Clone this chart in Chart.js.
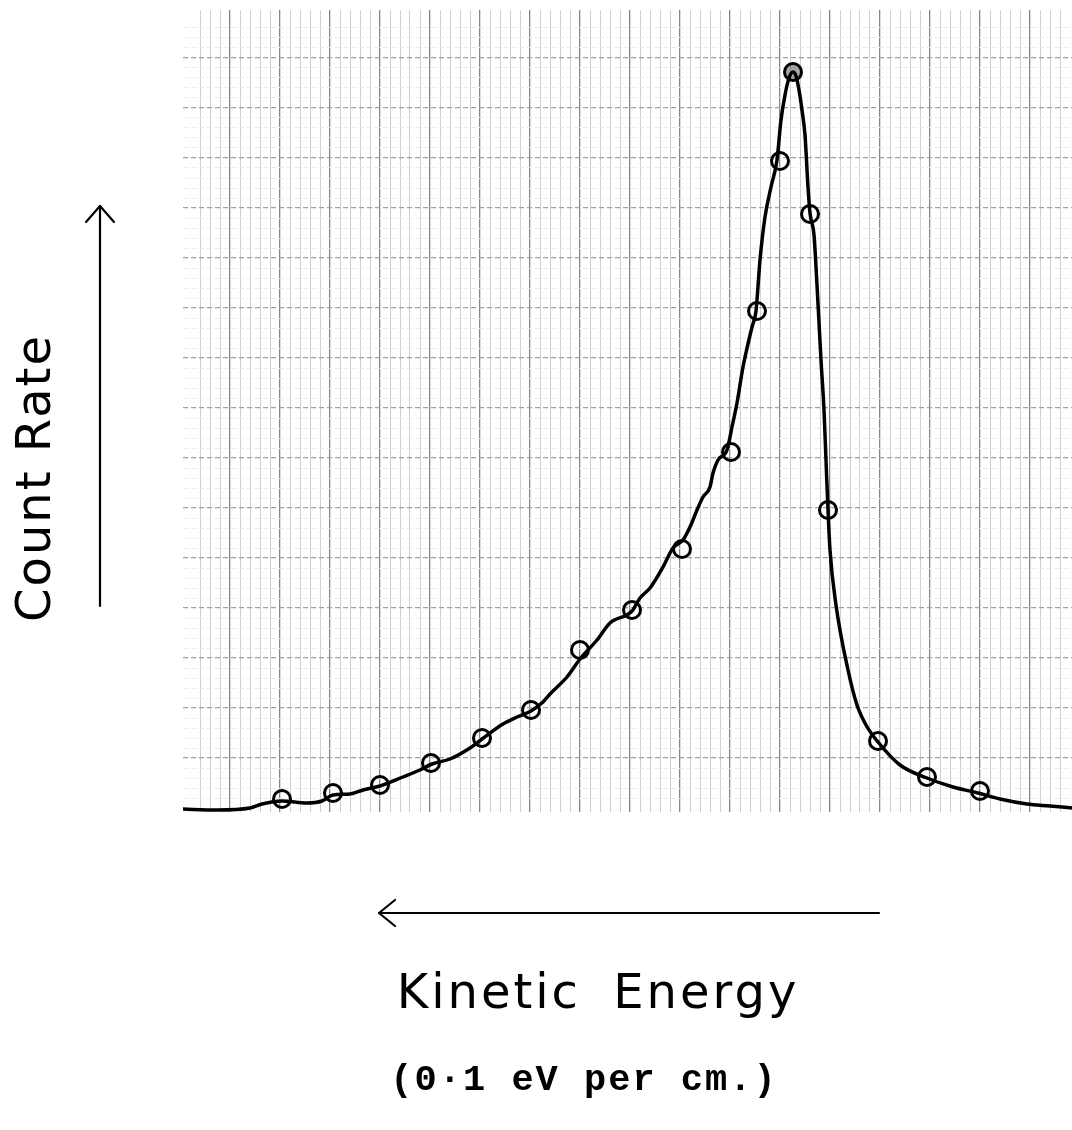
<!DOCTYPE html>
<html>
<head>
<meta charset="utf-8">
<script src="https://cdn.jsdelivr.net/npm/chart.js@4.4.1/dist/chart.umd.min.js"></script>
<style>
  html, body { margin: 0; padding: 0; background: #fff; overflow: hidden; }
  #wrap { width: 1072px; height: 1130px; position: relative; }
  canvas { display: block; }
</style>
</head>
<body>
<div id="wrap"><canvas id="chart"></canvas></div>
<script>
// traced curve (x in grid mm, y in grid mm above baseline)
const curveX = [0.1, 3.7, 7.0, 8.2, 10.2, 12.7, 14.2, 15.3, 17.0, 18.3, 20.0, 22.3, 24.0, 25.2,
  27.0, 29.0, 30.2, 32.3, 33.7, 35.1, 36.3, 37.0, 38.7, 40.0, 41.7, 43.0, 45.2, 46.0, 47.0,
  48.3, 49.3, 50.3, 51.0, 51.7, 52.3, 53.0, 53.3, 53.8, 54.7, 55.2, 55.7, 56.3, 57.2, 57.6,
  58.0, 58.5, 59.1, 59.7, 60.1, 60.5, 60.9, 61.3, 61.6, 61.9, 62.2, 62.5, 62.8, 63.0, 63.4,
  63.7, 64.1, 64.4, 64.6, 64.8, 65.0, 65.6, 66.8, 67.7, 68.6, 69.8, 72.0, 74.7, 77.3, 79.8,
  82.0, 84.7, 87.0, 89.2];
const curveY = [-0.1, -0.2, 0.0, 0.4, 0.7, 0.5, 0.7, 1.3, 1.4, 1.8, 2.2, 3.1, 3.8, 4.4,
  4.9, 6.0, 6.9, 8.4, 9.1, 9.7, 10.6, 11.4, 13.1, 14.9, 16.8, 18.5, 19.7, 21.0, 22.0,
  24.1, 26.0, 26.8, 28.1, 29.8, 31.1, 32.1, 33.5, 34.8, 35.8, 38.1, 40.5, 44.1, 48.1, 49.7,
  54.8, 59.1, 62.1, 64.8, 68.8, 71.3, 73.0, 73.6, 73.2, 71.8, 69.8, 67.3, 62.1, 59.5, 57.3,
  52.3, 44.8, 39.8, 34.8, 29.8, 25.8, 20.3, 13.8, 10.3, 8.3, 6.6, 4.3, 3.0, 2.1, 1.5,
  0.9, 0.4, 0.2, 0.0];

// measured points (circles)
const pointX = [10.2, 15.3, 20.0, 25.1, 30.2, 35.1, 40.0, 45.2, 50.2, 55.1, 57.7, 60.0,
  61.3, 63.0, 64.8, 69.8, 74.7, 80.0];
const pointY = [0.9, 1.5, 2.3, 4.5, 7.0, 9.8, 15.8, 19.8, 25.9, 35.6, 49.7, 64.7,
  73.6, 59.4, 29.8, 6.7, 3.1, 1.7];

const peakY = Math.max(...pointY);

const labelsPlugin = {
  id: "labels",
  beforeDraw(chart) {
    const c = chart.ctx;
    c.save();
    c.fillStyle = "#fff";
    c.fillRect(0, 0, chart.width, chart.height);
    c.restore();
  },
  afterDraw(chart) {
    const c = chart.ctx;
    c.save();
    c.strokeStyle = "#000";
    c.lineWidth = 2.2;
    c.lineCap = "round";
    c.lineJoin = "round";
    // count rate arrow
    c.beginPath(); c.moveTo(100, 606); c.lineTo(100, 206); c.stroke();
    c.beginPath(); c.moveTo(86, 222); c.lineTo(100, 206); c.lineTo(114, 222); c.stroke();
    // energy arrow
    c.beginPath(); c.moveTo(879, 913); c.lineTo(379, 913); c.stroke();
    c.beginPath(); c.moveTo(395, 900); c.lineTo(379, 913); c.lineTo(395, 926); c.stroke();

    c.fillStyle = "#000";
    c.textAlign = "center";
    c.textBaseline = "alphabetic";
    c.font = "48px 'DejaVu Sans'";
    c.letterSpacing = "2px";
    c.save();
    c.translate(50, 478);
    c.rotate(-Math.PI / 2);
    c.fillText("Count Rate", 0, 0);
    c.restore();

    c.letterSpacing = "3px";
    c.wordSpacing = "14px";
    c.fillText("Kinetic Energy", 598, 1008);

    c.wordSpacing = "0px";
    c.letterSpacing = "2px";
    c.font = "bold 37px 'Liberation Mono'";
    c.fillText("(0·1 eV per cm.)", 584, 1090);
    c.restore();
  },
};

function keepWhole(scale) {
  scale.ticks = scale.ticks.filter((t) => Math.abs(t.value - Math.round(t.value)) < 1e-6);
}

const ctx = document.getElementById("chart");

const chart = new Chart(ctx, {
  type: "scatter",
  data: {
    datasets: [
      {
        label: "curve",
        data: curveX.map((x, i) => ({ x: x, y: curveY[i] })),
        showLine: true,
        borderColor: "#000",
        borderWidth: 3.5,
        pointRadius: 0,
        cubicInterpolationMode: "monotone",
        order: 2,
      },
      {
        label: "points",
        data: pointX.map((x, i) => ({ x: x, y: pointY[i] })),
        pointRadius: 8.5,
        pointBorderWidth: 3,
        pointBorderColor: "#000",
        pointBackgroundColor: (c) => (c.raw && c.raw.y === peakY ? "rgba(0,0,0,0.35)" : "rgba(0,0,0,0)"),
        order: 1,
      },
    ],
  },
  options: {
    responsive: true,
    maintainAspectRatio: false,
    animation: false,
    layout: {
      autoPadding: false,
      padding: { left: 183, top: 10, right: 0, bottom: 318 },
    },
    scales: {
      x: {
        type: "linear",
        min: 0.3,
        max: 89.2,
        afterBuildTicks: keepWhole,
        ticks: { display: false, stepSize: 1 },
        border: { display: false },
        grid: {
          drawTicks: false,
          color: (c) => (c.tick.value % 5 === 0 ? "#858585" : "#cfcfcf"),
          lineWidth: (c) => (c.tick.value % 5 === 0 ? 1.3 : 1),
        },
      },
      y: {
        type: "linear",
        min: -0.4,
        max: 79.8,
        afterBuildTicks: keepWhole,
        ticks: { display: false, stepSize: 1 },
        border: { display: false, dash: [5, 3] },
        grid: {
          drawTicks: false,
          color: (c) => (c.tick.value % 5 === 0 ? "#a0a0a0" : "#ebebeb"),
          lineWidth: (c) => (c.tick.value % 5 === 0 ? 1.2 : 1),
        },
      },
    },
    plugins: {
      legend: { display: false },
      tooltip: { enabled: false },
    },
  },
  plugins: [labelsPlugin],
});
</script>
</body>
</html>
